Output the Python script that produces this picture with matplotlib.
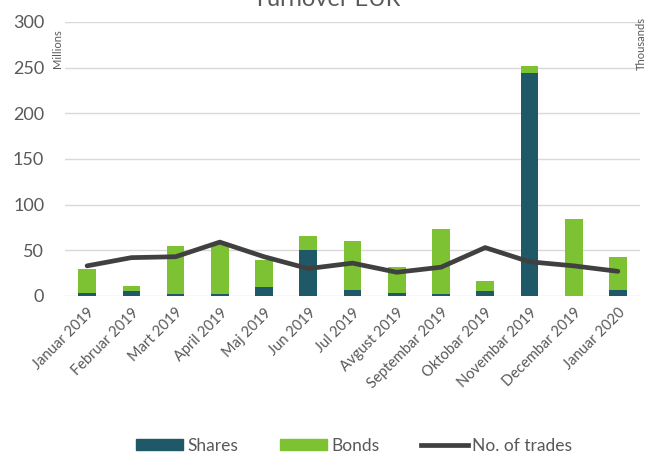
import numpy as np
import matplotlib.pyplot as plt
from matplotlib.patches import Patch
from matplotlib.lines import Line2D

plt.rcParams['font.family'] = ['Lato', 'DejaVu Sans']

# data
months = ['Januar 2019', 'Februar 2019', 'Mart 2019', 'April 2019', 'Maj 2019',
          'Jun 2019', 'Jul 2019', 'Avgust 2019', 'Septembar 2019', 'Oktobar 2019',
          'Novembar 2019', 'Decembar 2019', 'Januar 2020']
shares = [3, 5.5, 2, 2, 10, 50, 7, 3, 2, 6, 244, 0.5, 7]
bonds = [27, 5.5, 53, 55, 29, 16, 53, 29, 71, 10, 8, 83.5, 36]
trades = [33, 42, 43, 59, 43, 30, 36, 26, 31.5, 53, 37.5, 33, 27]

c_shares = '#1F5968'
c_bonds = '#7DC232'
c_line = '#404040'
c_text = '#595959'

fig = plt.figure(figsize=(6.53, 4.54), dpi=100)
ax = fig.add_axes([65/653, 1-296/454, 575/653, 274/454])

x = np.arange(len(months))
ax.bar(x, shares, width=0.4, color=c_shares, zorder=2)
ax.bar(x, bonds, width=0.4, bottom=shares, color=c_bonds, zorder=2)

# trades on the secondary axis (no tick labels in the original)
ax2 = ax.twinx()
ax2.plot(x, trades, color=c_line, lw=3.4, solid_capstyle='round', zorder=3)
ax2.set_ylim(0, 300)
ax2.set_yticks([])
for s in ax2.spines.values():
    s.set_visible(False)

ax.set_ylim(0, 300)
ax.set_xlim(-0.5, len(months) - 0.5)
ax.set_yticks(range(0, 301, 50))
ax.yaxis.grid(True, color='#D9D9D9', lw=1)
ax.set_axisbelow(True)
for s in ax.spines.values():
    s.set_visible(False)
ax.tick_params(axis='both', length=0, colors=c_text)
ax.tick_params(axis='y', labelsize=13, pad=15)
ax.tick_params(axis='x', pad=7)
ax.set_xticks(x)
ax.set_xticklabels(months, rotation=45, ha='right', rotation_mode='anchor', fontsize=10.5)

fig.text(58/653, 1-49/454, 'Millions', rotation=90, fontsize=8, color=c_text,
         ha='center', va='center')
fig.text(641/653, 1-43/454, 'Thousands', rotation=90, fontsize=8, color=c_text,
         ha='center', va='center')
fig.text(0.5, 1.0, 'Turnover EUR', fontsize=17, color=c_text, ha='center', va='center')

handles = [Patch(color=c_shares, label='Shares'),
           Patch(color=c_bonds, label='Bonds'),
           Line2D([0], [0], color=c_line, lw=3.4, label='No. of trades')]
fig.legend(handles=handles, loc='center', bbox_to_anchor=(354/653, 1-446/454), ncol=3,
           frameon=False, fontsize=12.5, labelcolor=c_text, handlelength=2.7,
           handleheight=0.6, handletextpad=0.25, columnspacing=2.4)

fig.savefig('out.png', dpi=100)
